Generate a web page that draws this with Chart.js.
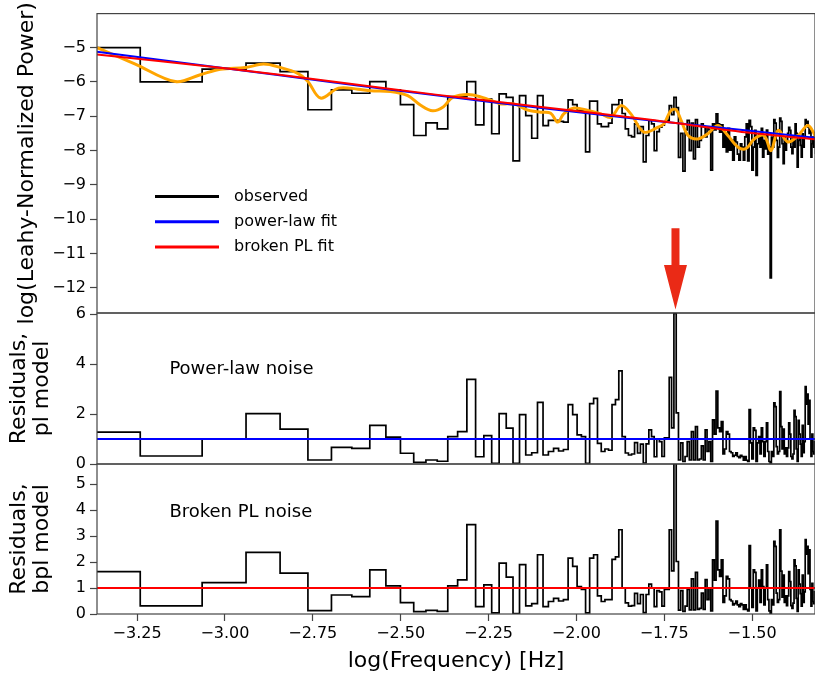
<!DOCTYPE html>
<html>
<head>
<meta charset="utf-8">
<script src="https://cdn.jsdelivr.net/npm/chart.js@4.4.0/dist/chart.umd.min.js"></script>
<style>
  html, body { margin: 0; padding: 0; background: #fff; }
  #wrap { position: relative; width: 815px; height: 677px; overflow: hidden; }
  .panel { position: absolute; left: 0; }
</style>
</head>
<body>
<div id="wrap">
  <canvas class="panel" id="c1" width="815" height="330" style="top:0px"></canvas>
  <canvas class="panel" id="c2" width="815" height="183" style="top:297px"></canvas>
  <canvas class="panel" id="c3" width="815" height="229" style="top:448px"></canvas>
</div>
<script>
// frequency grid: bin k sits at log10(k * df)
const LOG_DF = -3.542;
const X_MIN = -3.364, X_MAX = -1.321;

// log(Leahy power), one value per frequency bin (k = 1..167)
const obsPower = [
  -5.00, -6.00, -5.63, -5.45, -5.70, -6.81, -6.23, -6.33, -5.99, -6.23,
  -6.66, -7.56, -7.19, -7.37, -6.43, -6.43, -5.99, -7.25, -6.50, -7.51,
  -6.35, -6.45, -8.30, -6.40, -6.98, -7.64, -6.40, -7.27, -7.12, -7.12,
  -7.15, -7.17, -6.52, -6.66, -6.83, -6.84, -8.04, -6.56, -6.56, -7.22,
  -7.30, -7.30, -7.20, -6.66, -6.66, -6.52, -6.92, -7.37, -7.56, -7.60,
  -7.22, -7.50, -7.30, -8.33, -7.56, -7.12, -7.22, -8.00, -7.45, -7.32,
  -7.26, -7.17, -7.12, -6.69, -6.95, -6.45, -6.75, -8.20, -7.50, -8.60,
  -7.40, -7.12, -8.00, -7.20, -8.24, -7.10, -7.90, -7.70, -7.22, -7.30,
  -7.60, -7.32, -7.40, -8.57, -7.22, -7.40, -6.93, -7.22, -7.46, -7.25,
  -7.90, -7.50, -8.04, -7.35, -7.99, -7.70, -8.28, -7.60, -7.75, -8.10,
  -8.28, -7.80, -7.90, -8.28, -7.60, -7.22, -8.30, -7.12, -7.30, -8.57,
  -7.90, -7.41, -8.72, -7.80, -7.51, -7.90, -7.35, -8.19, -7.70, -7.95,
  -7.40, -8.10, -7.90, -11.71, -7.61, -7.90, -7.10, -7.20, -7.70, -8.20,
  -7.90, -7.05, -7.15, -7.80, -8.38, -7.60, -7.99, -7.70, -7.50, -7.32,
  -7.41, -7.90, -8.09, -7.60, -7.90, -7.22, -7.50, -8.48, -7.70, -7.61,
  -7.85, -8.19, -7.51, -7.90, -7.60, -7.10, -7.20, -7.15, -7.32, -7.50,
  -7.40, -8.19, -7.80, -7.61, -7.90, -7.50, -8.10
];

// residuals against the power-law model
const resPL = [
  1.28, 0.32, 1.00, 2.02, 1.40, 0.16, 0.67, 0.63, 1.55, 1.08,
  0.43, 0.07, 0.16, 0.11, 1.10, 1.30, 3.39, 0.29, 1.14, 0.03,
  2.02, 1.44, 0.03, 1.98, 0.36, 0.45, 2.47, 0.36, 0.50, 0.63,
  0.52, 0.58, 2.38, 1.98, 1.17, 1.10, 0.03, 2.42, 2.63, 0.83,
  0.50, 0.60, 0.55, 2.38, 2.58, 3.73, 1.10, 0.44, 0.36, 0.40,
  0.86, 0.44, 0.80, 0.04, 0.81, 1.37, 1.10, 0.29, 1.00, 0.90,
  0.30, 1.05, 1.05, 3.47, 1.45, 6.03, 2.05, 0.16, 0.85, 0.10,
  0.30, 0.90, 0.16, 1.30, 0.16, 1.50, 0.16, 0.20, 0.73, 0.16,
  1.37, 0.50, 0.90, 0.10, 1.77, 1.20, 2.92, 1.45, 1.30, 1.70,
  0.40, 0.60, 1.30, 1.20, 0.50, 0.45, 0.30, 0.35, 0.45, 0.30,
  0.25, 0.35, 0.30, 0.15, 0.30, 0.15, 0.10, 2.18, 0.85, 0.20,
  1.45, 1.35, 0.10, 0.85, 1.10, 0.40, 1.45, 0.90, 0.30, 0.90,
  1.65, 0.50, 0.10, 0.02, 0.50, 0.30, 2.45, 2.30, 0.70, 0.40,
  0.50, 2.90, 1.50, 0.60, 1.40, 0.40, 0.65, 0.30, 0.65, 1.65,
  1.20, 0.30, 0.20, 0.40, 2.15, 1.90, 0.60, 0.10, 1.75, 1.20,
  0.80, 0.30, 1.55, 0.45, 0.90, 3.10, 2.40, 2.80, 1.60, 2.55,
  1.00, 0.30, 1.20, 0.50, 0.40, 0.90, 0.50
];

// residuals against the broken power-law model
const resBPL = [
  1.63, 0.31, 1.21, 2.37, 1.57, 0.13, 0.73, 0.67, 1.70, 1.08,
  0.44, 0.09, 0.14, 0.10, 1.08, 1.31, 3.44, 0.28, 1.12, 0.04,
  1.96, 1.42, 0.02, 1.90, 0.31, 0.40, 2.28, 0.28, 0.48, 0.60,
  0.50, 0.55, 2.15, 1.83, 1.05, 0.95, 0.04, 2.15, 2.28, 0.70,
  0.48, 0.55, 0.55, 2.10, 2.20, 3.24, 1.00, 0.43, 0.30, 0.32,
  0.79, 0.40, 0.75, 0.05, 0.75, 1.15, 1.00, 0.28, 0.90, 0.85,
  0.30, 0.95, 0.95, 3.24, 1.66, 6.00, 2.02, 0.15, 0.90, 0.10,
  0.30, 0.95, 0.16, 1.35, 0.16, 1.60, 0.18, 0.22, 0.80, 0.18,
  1.32, 0.55, 1.00, 0.12, 2.08, 1.30, 3.57, 1.70, 1.45, 2.08,
  0.45, 0.70, 1.45, 1.35, 0.55, 0.50, 0.35, 0.40, 0.50, 0.35,
  0.28, 0.40, 0.35, 0.18, 0.35, 0.18, 0.12, 2.63, 1.00, 0.25,
  1.70, 1.60, 0.12, 1.00, 1.30, 0.45, 1.70, 1.05, 0.35, 1.00,
  1.89, 0.55, 0.12, 0.02, 0.55, 0.35, 2.79, 2.60, 0.80, 0.45,
  0.55, 3.24, 1.65, 0.65, 1.50, 0.45, 0.70, 0.32, 0.70, 1.63,
  1.25, 0.32, 0.22, 0.42, 2.08, 1.85, 0.60, 0.10, 1.70, 1.15,
  0.78, 0.30, 1.50, 0.45, 0.85, 2.86, 2.30, 2.60, 1.55, 2.47,
  0.95, 0.30, 1.18, 0.48, 0.40, 0.85, 0.50
];

// smoothed spectrum (orange)
const smoothLogF = [
  -3.364, -3.255, -3.141, -3.070, -3.013, -2.941, -2.890, -2.842, -2.793, -2.765,
  -2.728, -2.677, -2.622, -2.585, -2.529, -2.480, -2.443, -2.409, -2.378, -2.352,
  -2.301, -2.253, -2.215, -2.178, -2.138, -2.101, -2.073, -2.053, -2.036, -2.007,
  -1.967, -1.930, -1.902, -1.873, -1.845, -1.808, -1.768, -1.751, -1.731, -1.716,
  -1.702, -1.682, -1.654, -1.626, -1.597, -1.569, -1.540, -1.517, -1.494, -1.466,
  -1.446, -1.426, -1.398, -1.369, -1.341, -1.318
];
const smoothPower = [
  -5.00, -5.48, -5.99, -5.79, -5.63, -5.58, -5.48, -5.58, -5.75, -5.97,
  -6.47, -6.18, -6.21, -6.26, -6.28, -6.40, -6.68, -6.84, -6.72, -6.45,
  -6.37, -6.50, -6.64, -6.64, -6.82, -6.88, -6.91, -7.17, -6.93, -6.76,
  -6.83, -6.93, -7.03, -6.69, -6.93, -7.46, -7.32, -7.22, -6.83, -6.81,
  -7.12, -7.56, -7.66, -7.51, -7.27, -7.56, -7.90, -7.94, -7.66, -7.56,
  -8.00, -7.41, -7.75, -7.56, -7.27, -7.61
];

// model fits
const fitLogF = [-3.364, -3.0, -2.7, -2.4, -2.1, -1.8, -1.5, -1.318];
const plFit  = [-5.12, -5.60, -6.00, -6.39, -6.76, -7.11, -7.43, -7.63];
const bplFit = [-5.20, -5.60, -5.98, -6.37, -6.73, -7.09, -7.49, -7.67];
const MODEL_LEVEL = 1;

// ticks
const xTicks = [-3.25, -3.00, -2.75, -2.50, -2.25, -2.00, -1.75, -1.50];
const powerTicks = [-12, -11, -10, -9, -8, -7, -6, -5];
const resPLTicks = [0, 2, 4, 6];
const resBPLTicks = [0, 1, 2, 3, 4, 5];
const legendLabels = ['observed', 'power-law fit', 'broken PL fit'];

const logFreq = obsPower.map((_, i) => Math.log10(i + 1) + LOG_DF);
const pts = (xs, ys) => xs.map((x, i) => ({ x: x, y: ys[i] }));
const flat = v => [{ x: X_MIN, y: v }, { x: X_MAX, y: v }];
const minus = s => String(s).replace('-', '\u2212');

Chart.defaults.font.family = 'DejaVu Sans';
Chart.defaults.color = '#000';

const FRAME = '#444';

// frame, legend, notes and arrow
const decor = {
  id: 'decor',
  afterDatasetsDraw(chart, args, opts) {
    const { ctx, chartArea: a, scales } = chart;
    ctx.save();
    ctx.strokeStyle = FRAME;
    ctx.lineWidth = 1.2;
    ctx.strokeRect(a.left, a.top, a.right - a.left, a.bottom - a.top);

    if (opts.legend) {
      const lg = opts.legend;
      ctx.font = '16px "DejaVu Sans"';
      ctx.textBaseline = 'middle';
      chart.data.datasets.filter(d => legendLabels.includes(d.label)).forEach((d, i) => {
        const y = a.top + lg.top + i * lg.row;
        ctx.strokeStyle = d.borderColor;
        ctx.lineWidth = 3;
        ctx.beginPath();
        ctx.moveTo(a.left + lg.left, y);
        ctx.lineTo(a.left + lg.left + lg.len, y);
        ctx.stroke();
        ctx.fillStyle = '#000';
        ctx.fillText(d.label, a.left + lg.left + lg.len + 15, y);
      });
    }

    if (opts.note) {
      ctx.font = '18px "DejaVu Sans"';
      ctx.fillStyle = '#000';
      ctx.textBaseline = 'middle';
      ctx.fillText(opts.note.text, scales.x.getPixelForValue(opts.note.x), scales.y.getPixelForValue(opts.note.y));
    }

    if (opts.arrow) {
      const ar = opts.arrow;
      const x = scales.x.getPixelForValue(ar.x);
      const y0 = scales.y.getPixelForValue(ar.from);
      const yh = scales.y.getPixelForValue(ar.head);
      const y1 = scales.y.getPixelForValue(ar.to);
      ctx.fillStyle = '#ea2a16';
      ctx.beginPath();
      ctx.moveTo(x - 4, y0);
      ctx.lineTo(x + 4, y0);
      ctx.lineTo(x + 4, yh);
      ctx.lineTo(x + 11.5, yh);
      ctx.lineTo(x, y1);
      ctx.lineTo(x - 11.5, yh);
      ctx.lineTo(x - 4, yh);
      ctx.closePath();
      ctx.fill();
    }
    ctx.restore();
  }
};

function xScale(show) {
  const s = {
    type: 'linear',
    min: X_MIN,
    max: X_MAX,
    display: show,
    afterBuildTicks: sc => { sc.ticks = xTicks.map(v => ({ value: v })); },
    ticks: {
      callback: v => minus(v.toFixed(2)),
      font: { size: 16 },
      padding: 3,
      maxRotation: 0,
      autoSkip: false
    },
    grid: { drawOnChartArea: false, drawTicks: true, tickLength: 7, tickColor: FRAME, tickWidth: 1.2 },
    border: { display: false },
    title: {
      display: true,
      text: 'log(Frequency) [Hz]',
      font: { size: 22 },
      padding: { top: 0, bottom: 3 }
    }
  };
  if (show) s.afterFit = sc => { sc.height = 63; };
  return s;
}

function yScale(min, max, ticks, title, titlePad, lh) {
  return {
    type: 'linear',
    min: min,
    max: max,
    afterBuildTicks: s => { s.ticks = ticks.map(v => ({ value: v })); },
    afterFit: s => { s.width = 97; },
    ticks: { callback: v => minus(v), font: { size: 16 }, padding: 4 },
    grid: { drawOnChartArea: false, drawTicks: true, tickLength: 7, tickColor: FRAME, tickWidth: 1.2 },
    border: { display: false },
    title: {
      display: true,
      text: title,
      font: { size: 22, lineHeight: lh },
      padding: { top: titlePad, bottom: 0 }
    }
  };
}

// steps-post: each bin's value holds until the next bin starts
function stepSet(label, ys) {
  return {
    label: label, data: pts(logFreq, ys), stepped: 'before',
    borderColor: '#000', borderWidth: 1.7, pointRadius: 0, order: 4
  };
}

function lineSet(label, data, color, width, order, tension) {
  return {
    label: label, data: data, borderColor: color, borderWidth: width,
    pointRadius: 0, order: order, tension: tension || 0
  };
}

function base(padding, scales, decorOpts) {
  return {
    responsive: false,
    animation: false,
    layout: { padding: padding },
    plugins: { legend: { display: false }, tooltip: { enabled: false }, decor: decorOpts },
    scales: scales
  };
}

new Chart(document.getElementById('c1'), {
  type: 'line',
  data: {
    datasets: [
      stepSet('observed', obsPower),
      lineSet('smoothed', pts(smoothLogF, smoothPower), '#ffa500', 3, 3, 0.35),
      lineSet('power-law fit', pts(fitLogF, plFit), '#0000ff', 2, 2, 0.3),
      lineSet('broken PL fit', pts(fitLogF, bplFit), '#ff0000', 2, 1, 0.3)
    ]
  },
  options: base({ top: 13, bottom: 17, left: 0, right: 0 }, {
    x: xScale(false),
    y: yScale(-12.73, -4.01, powerTicks, 'log(Leahy-Normalized Power)', 14, 1.2)
  }, {
    legend: { left: 58, top: 183, row: 25.2, len: 64 },
    arrow: { x: -1.718, from: -10.26, head: -11.33, to: -12.63 }
  }),
  plugins: [decor]
});

new Chart(document.getElementById('c2'), {
  type: 'line',
  data: {
    datasets: [
      stepSet('pl residuals', resPL),
      lineSet('pl model', flat(MODEL_LEVEL), '#0000ff', 2, 1)
    ]
  },
  options: base({ top: 16, bottom: 16, left: 0, right: 0 }, {
    x: xScale(false),
    y: yScale(0, 6.05, resPLTicks, ['Residuals,', 'pl model'], 8, 1.05)
  }, {
    note: { text: 'Power-law noise', x: -3.158, y: 3.79 }
  }),
  plugins: [decor]
});

new Chart(document.getElementById('c3'), {
  type: 'line',
  data: {
    datasets: [
      stepSet('bpl residuals', resBPL),
      lineSet('bpl model', flat(MODEL_LEVEL), '#ff0000', 2, 1)
    ]
  },
  options: base({ top: 16, bottom: 0, left: 0, right: 0 }, {
    x: xScale(true),
    y: yScale(0, 5.77, resBPLTicks, ['Residuals,', 'bpl model'], 8, 1.05)
  }, {
    note: { text: 'Broken PL noise', x: -3.158, y: 3.92 }
  }),
  plugins: [decor]
});
</script>
</body>
</html>
